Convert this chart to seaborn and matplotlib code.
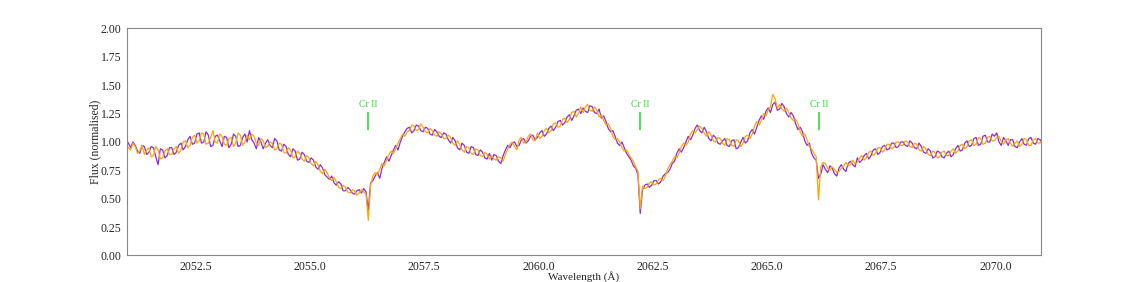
import numpy as np
import pandas as pd
import matplotlib
matplotlib.use('Agg')
import matplotlib.pyplot as plt
import seaborn as sns

# wavelength grid of the two spectra (Angstrom), 0.05 A sampling
wave_start = 2050.98
wave_step = 0.05

# normalised flux, first spectrum (purple), one row per Angstrom
flux_a = [
    1.03, 0.99, 0.95, 1.00, 0.97, 0.92, 0.90, 0.97, 0.96, 0.89, 0.91, 0.96, 0.95, 0.87, 0.80, 0.94, 0.93, 0.86, 0.88, 0.95,
    0.95, 0.89, 0.91, 0.97, 0.99, 0.93, 0.96, 1.02, 1.05, 0.98, 0.99, 1.07, 1.08, 0.99, 1.00, 1.09, 1.06, 0.96, 0.97, 1.05,
    1.06, 1.01, 0.96, 1.05, 1.04, 0.95, 0.98, 1.07, 1.05, 0.96, 0.97, 1.04, 1.07, 1.00, 1.10, 1.02, 0.99, 0.94, 1.04, 1.00,
    0.94, 0.99, 1.02, 0.97, 0.95, 1.03, 1.01, 0.93, 0.92, 0.98, 0.96, 0.89, 0.87, 0.94, 0.92, 0.84, 0.85, 0.91, 0.89, 0.83,
    0.82, 0.86, 0.84, 0.78, 0.76, 0.80, 0.77, 0.71, 0.69, 0.67, 0.70, 0.64, 0.62, 0.65, 0.63, 0.57, 0.57, 0.60, 0.58, 0.55,
    0.54, 0.57, 0.58, 0.55, 0.59, 0.56, 0.40, 0.64, 0.66, 0.70, 0.73, 0.68, 0.77, 0.82, 0.87, 0.83, 0.88, 0.93, 0.97, 0.93,
    1.00, 1.05, 1.09, 1.12, 1.13, 1.08, 1.10, 1.15, 1.14, 1.10, 1.09, 1.13, 1.12, 1.07, 1.06, 1.11, 1.09, 1.05, 1.04, 1.08,
    1.07, 1.02, 0.99, 1.04, 1.01, 0.95, 0.93, 0.99, 0.97, 0.91, 0.90, 0.96, 0.95, 0.89, 0.88, 0.93, 0.91, 0.86, 0.85, 0.90,
    0.84, 0.89, 0.88, 0.83, 0.81, 0.88, 0.93, 0.97, 0.95, 0.99, 1.00, 0.96, 0.97, 1.02, 1.03, 0.99, 1.01, 1.05, 1.06, 1.02,
    1.04, 1.08, 1.10, 1.05, 1.07, 1.12, 1.14, 1.10, 1.13, 1.18, 1.19, 1.15, 1.17, 1.22, 1.24, 1.19, 1.23, 1.28, 1.29, 1.25,
    1.30, 1.27, 1.26, 1.32, 1.31, 1.26, 1.25, 1.29, 1.21, 1.23, 1.18, 1.12, 1.09, 1.10, 1.05, 0.99, 0.97, 1.00, 0.95, 0.90,
    0.87, 0.84, 0.79, 0.77, 0.71, 0.37, 0.58, 0.62, 0.63, 0.60, 0.62, 0.66, 0.66, 0.63, 0.65, 0.70, 0.72, 0.73, 0.76, 0.81,
    0.83, 0.90, 0.94, 0.91, 0.95, 1.00, 1.05, 1.02, 1.06, 1.12, 1.15, 1.10, 1.08, 1.13, 1.09, 1.03, 1.01, 1.06, 1.04, 0.99,
    0.98, 1.01, 1.03, 0.97, 0.96, 1.01, 1.02, 0.94, 0.95, 1.00, 1.04, 0.99, 1.01, 1.08, 1.11, 1.07, 1.13, 1.19, 1.23, 1.20,
    1.27, 1.30, 1.26, 1.33, 1.35, 1.28, 1.29, 1.34, 1.31, 1.25, 1.22, 1.26, 1.23, 1.16, 1.11, 1.13, 1.09, 1.01, 0.97, 0.99,
    0.90, 0.86, 0.84, 0.68, 0.72, 0.80, 0.76, 0.73, 0.79, 0.77, 0.72, 0.70, 0.77, 0.80, 0.76, 0.74, 0.81, 0.83, 0.80, 0.78,
    0.86, 0.82, 0.84, 0.88, 0.90, 0.85, 0.88, 0.93, 0.94, 0.89, 0.91, 0.96, 0.97, 0.93, 0.94, 0.99, 0.99, 0.95, 0.96, 1.00,
    1.00, 0.97, 0.96, 1.01, 0.99, 0.95, 0.94, 0.99, 0.96, 0.91, 0.90, 0.94, 0.92, 0.86, 0.87, 0.92, 0.91, 0.87, 0.86, 0.90,
    0.92, 0.87, 0.89, 0.94, 0.97, 0.92, 0.93, 0.99, 1.01, 0.96, 0.97, 1.03, 1.04, 0.97, 0.98, 1.05, 1.06, 1.00, 1.00, 1.07,
    1.05, 1.08, 1.00, 0.97, 1.04, 1.01, 0.97, 1.02, 1.02, 0.96, 0.95, 1.00, 1.03, 0.98, 0.97, 1.03, 1.04, 0.99, 0.98, 1.03,
    1.02, 0.99, 1.00,
]

# normalised flux, second spectrum (orange)
flux_b = [
    0.98, 0.95, 0.93, 0.99, 0.96, 0.90, 0.92, 0.97, 0.89, 0.93, 0.95, 0.87, 0.88, 0.96, 0.93, 0.85, 0.86, 0.92, 0.94, 0.89,
    0.89, 0.94, 0.96, 0.90, 0.93, 1.00, 1.01, 0.95, 0.97, 1.04, 1.06, 0.99, 1.01, 1.08, 1.07, 0.98, 0.99, 1.04, 1.10, 1.00,
    0.99, 1.07, 1.05, 0.98, 0.97, 1.03, 1.04, 0.96, 0.99, 1.08, 1.06, 0.97, 1.00, 1.06, 1.02, 1.07, 1.05, 0.99, 0.97, 1.03,
    1.01, 0.95, 0.96, 1.00, 0.99, 0.93, 0.94, 0.99, 0.98, 0.91, 0.90, 0.95, 0.93, 0.86, 0.87, 0.92, 0.90, 0.85, 0.83, 0.88,
    0.86, 0.81, 0.79, 0.83, 0.80, 0.74, 0.72, 0.76, 0.73, 0.68, 0.66, 0.69, 0.65, 0.60, 0.59, 0.62, 0.60, 0.56, 0.55, 0.58,
    0.57, 0.53, 0.55, 0.58, 0.56, 0.54, 0.31, 0.62, 0.70, 0.73, 0.71, 0.76, 0.81, 0.79, 0.84, 0.89, 0.92, 0.90, 0.94, 0.99,
    1.03, 1.07, 1.05, 1.09, 1.10, 1.15, 1.14, 1.10, 1.11, 1.16, 1.13, 1.09, 1.08, 1.12, 1.10, 1.06, 1.05, 1.09, 1.07, 1.03,
    1.03, 1.06, 1.04, 0.99, 0.97, 1.01, 0.98, 0.93, 0.91, 0.96, 0.95, 0.90, 0.89, 0.94, 0.93, 0.88, 0.87, 0.91, 0.89, 0.85,
    0.88, 0.85, 0.84, 0.87, 0.86, 0.83, 0.89, 0.94, 0.98, 1.00, 0.96, 0.93, 1.02, 1.04, 0.99, 1.00, 1.05, 1.07, 1.02, 1.01,
    1.08, 1.03, 1.05, 1.10, 1.12, 1.08, 1.10, 1.16, 1.17, 1.13, 1.14, 1.20, 1.21, 1.17, 1.20, 1.26, 1.27, 1.22, 1.25, 1.31,
    1.26, 1.31, 1.33, 1.28, 1.27, 1.31, 1.28, 1.22, 1.24, 1.19, 1.15, 1.16, 1.12, 1.05, 1.02, 1.03, 1.00, 0.95, 0.92, 0.93,
    0.89, 0.86, 0.83, 0.78, 0.74, 0.41, 0.61, 0.59, 0.60, 0.64, 0.65, 0.62, 0.63, 0.67, 0.68, 0.66, 0.70, 0.76, 0.80, 0.83,
    0.87, 0.86, 0.90, 0.96, 0.99, 0.97, 1.00, 1.07, 1.10, 1.08, 1.11, 1.14, 1.12, 1.08, 1.05, 1.09, 1.06, 1.01, 1.00, 1.04,
    1.03, 0.99, 0.97, 1.03, 1.02, 0.97, 0.96, 1.02, 1.01, 0.96, 0.99, 1.05, 1.06, 1.03, 1.07, 1.14, 1.18, 1.15, 1.19, 1.25,
    1.23, 1.28, 1.31, 1.42, 1.38, 1.30, 1.33, 1.29, 1.27, 1.30, 1.26, 1.21, 1.19, 1.20, 1.16, 1.09, 1.05, 1.07, 1.02, 0.96,
    0.94, 0.90, 0.87, 0.49, 0.78, 0.82, 0.81, 0.77, 0.75, 0.78, 0.76, 0.73, 0.74, 0.77, 0.79, 0.82, 0.79, 0.80, 0.84, 0.81,
    0.82, 0.86, 0.88, 0.84, 0.86, 0.91, 0.92, 0.88, 0.90, 0.95, 0.95, 0.91, 0.93, 0.98, 0.98, 0.94, 0.95, 1.00, 1.00, 0.97,
    0.97, 1.01, 1.00, 0.96, 0.95, 0.99, 0.98, 0.93, 0.92, 0.96, 0.94, 0.89, 0.88, 0.92, 0.91, 0.86, 0.87, 0.91, 0.92, 0.88,
    0.88, 0.92, 0.94, 0.90, 0.92, 0.97, 0.98, 0.94, 0.96, 1.01, 1.02, 0.97, 0.98, 1.04, 1.03, 0.98, 0.99, 1.04, 1.05, 1.01,
    1.01, 1.04, 1.05, 1.00, 0.98, 1.02, 1.03, 0.99, 0.96, 0.99, 1.01, 0.96, 0.98, 1.03, 1.02, 0.97, 0.97, 1.02, 1.03, 0.99,
    0.99, 1.02, 1.01,
]

# line identifications
line_waves = [2056.27, 2062.23, 2066.15]
line_names = ['Cr II', 'Cr II', 'Cr II']

wave = wave_start + wave_step * np.arange(len(flux_a))
df = pd.DataFrame({'wave': wave, 'flux_a': flux_a, 'flux_b': flux_b})

sns.set_style('white')
plt.rcParams['font.family'] = ['Liberation Serif', 'DejaVu Serif']

fig, ax = plt.subplots(figsize=(11.4, 2.82), dpi=100)
fig.subplots_adjust(left=0.1114, right=0.9132, bottom=0.094, top=0.899)

sns.lineplot(x='wave', y='flux_a', data=df, color='#8a2be2', lw=0.9, ax=ax)
sns.lineplot(x='wave', y='flux_b', data=df, color='#ffa500', lw=0.9, ax=ax)

# mark the Cr II lines
for w, name in zip(line_waves, line_names):
    ax.vlines(w, 1.11, 1.26, color='#33dd33', lw=1.2)
    ax.text(w, 1.33, name, color='#33dd33', fontsize=7, ha='center', va='center')

ax.set_xlim(2051.0, 2071.0)
ax.set_ylim(0, 2.0)
ax.set_xticks([2052.5, 2055.0, 2057.5, 2060.0, 2062.5, 2065.0, 2067.5, 2070.0])
ax.set_yticks([0, 0.25, 0.5, 0.75, 1.0, 1.25, 1.5, 1.75, 2.0])
ax.set_xticklabels([f'{t:.1f}' for t in ax.get_xticks()])
ax.set_yticklabels([f'{t:.2f}' for t in ax.get_yticks()])
ax.tick_params(labelsize=8.5, length=2, width=0.6, color='#888888', pad=2)

for s in ax.spines.values():
    s.set_color('#888888')
    s.set_linewidth(0.8)

ax.set_xlabel('Wavelength (Å)', fontsize=8)
ax.set_ylabel('Flux (normalised)', fontsize=8.5)
ax.xaxis.set_label_coords(0.5, -0.067)
ax.yaxis.set_label_coords(-0.028, 0.5)

plt.savefig('out.png', dpi=100)
